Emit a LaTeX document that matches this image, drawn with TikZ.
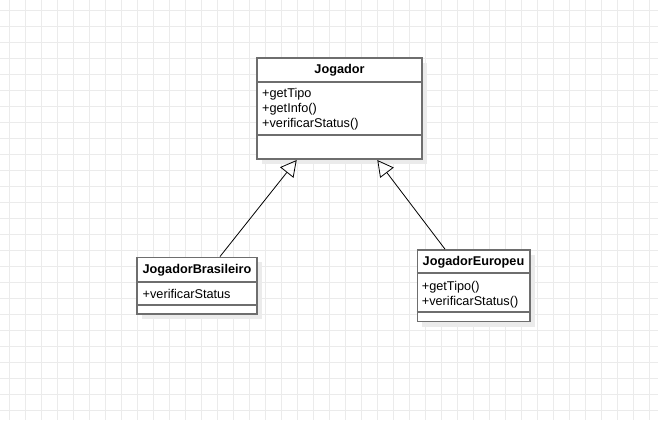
\documentclass[tikz,border=0pt]{standalone}
\usepackage{fontspec}
\setmainfont{Liberation Sans}
\usetikzlibrary{arrows.meta,shadows}

\definecolor{umlgray}{HTML}{6E6E6E}
\definecolor{gridgray}{HTML}{EBEBEB}

\begin{document}
\begin{tikzpicture}[
		x=1pt, y=-1pt,
		every node/.style={font=\fontsize{12.7}{15}\selectfont, inner sep=0pt},
		classbox/.style={draw=umlgray, line width=1.6pt, fill=white,
			drop shadow={fill=black!8, opacity=1, shadow xshift=5pt, shadow yshift=-5pt}},
		classname/.style={font=\fontsize{12.7}{15}\selectfont\bfseries},
		members/.style={align=left, anchor=west},
		sepline/.style={draw=umlgray, line width=1.6pt},
		gridline/.style={draw=gridgray, line width=0.8pt},
		inherit/.style={-{Triangle[open, length=16pt, width=17pt]}, line width=0.8pt}
	]
  \useasboundingbox (0,0) rectangle (658,420);
  % grid
  \foreach \gx in {0,...,40}
    \draw [gridline] (9.3+16*\gx, 0) -- (9.3+16*\gx, 420);
  \foreach \gy in {0,...,25}
    \draw [gridline] (0, 10+16*\gy) -- (658, 10+16*\gy);
  % classes
  \node (jog) [classbox, minimum width=165pt, minimum height=101pt] at (339.5, 108.7) {};
  \node (jog_name) [classname] at (339.5, 70.5) {Jogador};
  \node (jog_ops) [members] at (262, 109.5) {+getTipo\\+getInfo()\\+verificarStatus()};
  \draw [sepline] ([yshift=-24.5pt]jog.north west) -- ([yshift=-24.5pt]jog.north east);
  \draw [sepline] ([yshift=-77.5pt]jog.north west) -- ([yshift=-77.5pt]jog.north east);
  \node (bras) [classbox, minimum width=120pt, minimum height=56.7pt] at (197, 285.7) {};
  \node (bras_name) [classname] at (197, 270) {JogadorBrasileiro};
  \node (bras_ops) [members] at (142.5, 294) {+verificarStatus};
  \draw [sepline] ([yshift=-25.4pt]bras.north west) -- ([yshift=-25.4pt]bras.north east);
  \draw [sepline] ([yshift=-48.7pt]bras.north west) -- ([yshift=-48.7pt]bras.north east);
  \node (euro) [classbox, minimum width=112.7pt, minimum height=71.7pt] at (473.7, 285.8) {};
  \node (euro_name) [classname] at (473.5, 262.5) {JogadorEuropeu};
  \node (euro_ops) [members] at (421.7, 294.5) {+getTipo()\\+verificarStatus()};
  \draw [sepline] ([yshift=-24pt]euro.north west) -- ([yshift=-24pt]euro.north east);
  \draw [sepline] ([yshift=-62.7pt]euro.north west) -- ([yshift=-62.7pt]euro.north east);
  % generalisations
  \draw ([xshift=23pt]bras.north) edge [inherit] ([xshift=-42.8pt]jog.south);
  \draw ([xshift=-28.7pt]euro.north) edge [inherit] ([xshift=37.8pt]jog.south);
\end{tikzpicture}
\end{document}
